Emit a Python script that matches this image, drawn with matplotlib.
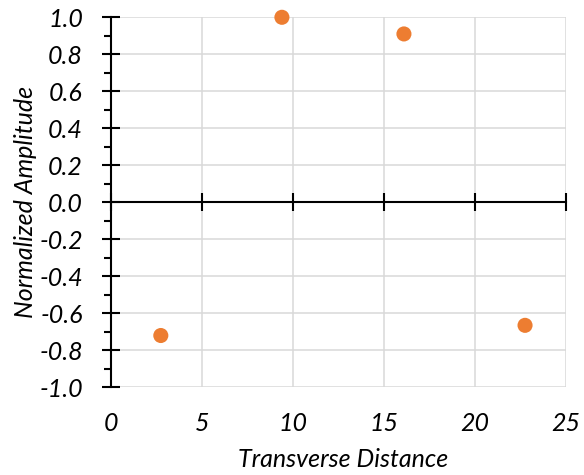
import matplotlib
matplotlib.use("Agg")
import matplotlib.pyplot as plt
from matplotlib.ticker import MultipleLocator, FormatStrFormatter

# Data
transverse_distance = [2.75, 9.4, 16.1, 22.75]
normalized_amplitude = [-0.72, 1.0, 0.91, -0.665]
x_ticks = [0, 5, 10, 15, 20, 25]
y_ticks = [-1.0, -0.8, -0.6, -0.4, -0.2, 0.0, 0.2, 0.4, 0.6, 0.8, 1.0]
x_title = "Transverse Distance"
y_title = "Normalized Amplitude"

plt.rcParams['font.family'] = ['Lato', 'DejaVu Sans']
plt.rcParams['axes.unicode_minus'] = False

FS = 18

fig = plt.figure(figsize=(5.84, 4.75), dpi=100)
ax = fig.add_axes([0.1896, 0.1846, 0.7796, 0.779])

grid_c = '#D9D9D9'
ax.set_xlim(0, 25)
ax.set_ylim(-1.0, 1.0)
ax.set_xticks(x_ticks)
ax.set_yticks(y_ticks)
ax.yaxis.set_minor_locator(MultipleLocator(0.1))
ax.yaxis.set_major_formatter(FormatStrFormatter('%.1f'))
ax.grid(True, which='major', color=grid_c, linewidth=1.1)
ax.set_axisbelow(True)

for s in ['top', 'right']:
    ax.spines[s].set_visible(False)
ax.spines['bottom'].set_position(('data', 0))
ax.spines['bottom'].set_linewidth(1.5)
ax.spines['left'].set_linewidth(1.5)
ax.spines['bottom'].set_zorder(2.5)

ax.tick_params(axis='x', which='major', direction='inout', length=12.5, width=1.5,
               labelbottom=False)
ax.tick_params(axis='y', which='major', direction='inout', length=13, width=1.5,
               pad=13.5, labelsize=FS)
ax.tick_params(axis='y', which='minor', direction='out', length=5, width=1.5)
for lab in ax.get_yticklabels():
    lab.set_fontstyle('italic')

# x tick labels at the bottom of the plot area
sec = ax.secondary_xaxis('bottom')
sec.set_xticks(x_ticks)
sec.spines['bottom'].set_visible(False)
sec.tick_params(axis='x', length=0, pad=18, labelsize=FS)
for lab in sec.get_xticklabels():
    lab.set_fontstyle('italic')

ax.scatter(transverse_distance, normalized_amplitude, s=118, color='#ED7D31',
           edgecolors='none', zorder=3, clip_on=False)

ax.set_xlabel(x_title, fontsize=FS, fontstyle='italic', va='center')
ax.xaxis.set_label_coords(0.51, -0.196)
ax.set_ylabel(y_title, fontsize=FS, fontstyle='italic', va='center')
ax.yaxis.set_label_coords(-0.188, 0.5)

fig.savefig('out.png', dpi=100)
